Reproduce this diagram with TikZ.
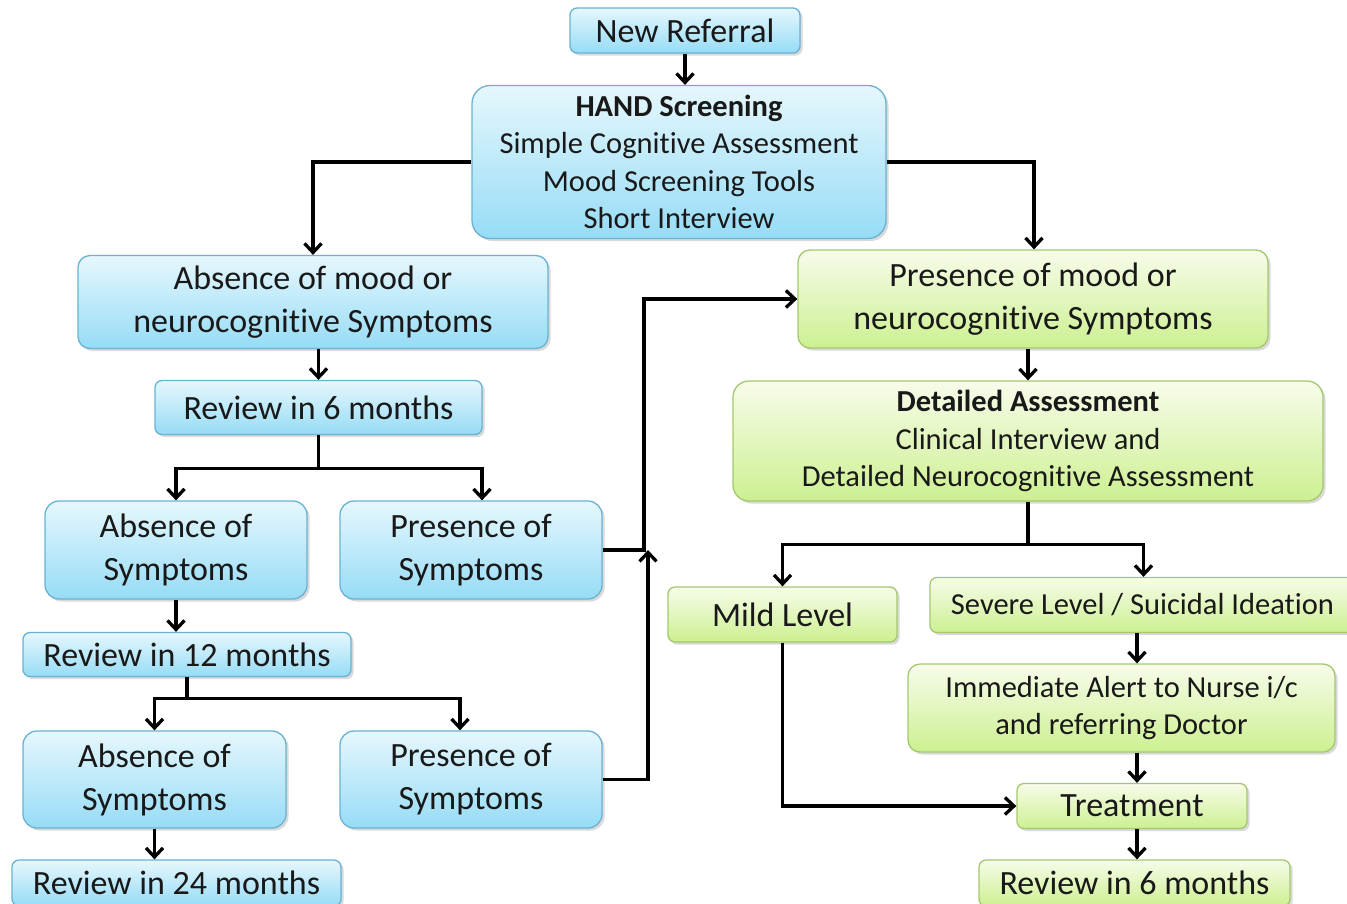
\documentclass[tikz,border=0pt]{standalone}
\usepackage{fontspec}
\setmainfont{Carlito}[Ligatures=NoCommon]
\usetikzlibrary{arrows.meta,shadows,calc}

\definecolor{bluetop}{RGB}{230,247,253}
\definecolor{bluebot}{RGB}{150,220,246}
\definecolor{bluebd}{RGB}{105,178,210}
\definecolor{greentop}{RGB}{247,252,234}
\definecolor{greenbot}{RGB}{205,240,145}
\definecolor{greenbd}{RGB}{165,200,110}

\newcommand\lgtext{\fontsize{34}{43}\selectfont}
\newcommand\smtext{\fontsize{30.5}{37.5}\selectfont}

\tikzset{
  box/.style={rounded corners=#1, line width=1.3pt, align=center, inner sep=0pt,
    text=black!90, drop shadow={shadow xshift=2.5pt, shadow yshift=-2.5pt, opacity=0.3}},
  bluebox/.style={box=#1, draw=bluebd, top color=bluetop, bottom color=bluebot},
  bluebox/.default=10pt,
  greenbox/.style={box=#1, draw=greenbd, top color=greentop, bottom color=greenbot},
  greenbox/.default=10pt,
  wire/.style={line width=3.3pt, black},
  arr/.style={wire, -{Straight Barb[length=9pt,width=17pt,line width=3.3pt]}},
}

\begin{document}
\begin{tikzpicture}[x=1pt,y=-1pt]
\useasboundingbox (0,0) rectangle (1347,903);

% left branch (blue)
\node[bluebox=7pt, minimum width=230pt, minimum height=45pt, font=\lgtext] (newref) at (685,30.5) {New Referral};
\node[bluebox=18pt, minimum width=414pt, minimum height=153pt, font=\smtext] (hand) at (679,162)
  {\textbf{HAND Screening}\\Simple Cognitive Assessment\\Mood Screening Tools\\Short Interview};
\node[bluebox=12pt, minimum width=470pt, minimum height=93pt, font=\lgtext] (absmood) at (313,302)
  {Absence of mood or\\neurocognitive Symptoms};
\node[bluebox=7pt, minimum width=327pt, minimum height=54pt, font=\lgtext] (revsix) at (318.5,407.5) {Review in 6 months};
\node[bluebox=14pt, minimum width=262pt, minimum height=98pt, font=\lgtext] (absone) at (176,550) {Absence of\\Symptoms};
\node[bluebox=14pt, minimum width=262pt, minimum height=98pt, font=\lgtext] (presone) at (471,550) {Presence of\\Symptoms};
\node[bluebox=7pt, minimum width=328pt, minimum height=44pt, font=\lgtext] (revtwelve) at (187,654.5) {Review in 12 months};
\node[bluebox=14pt, minimum width=263pt, minimum height=97pt, font=\lgtext] (abstwo) at (154.5,779.5) {Absence of\\Symptoms};
\node[bluebox=14pt, minimum width=262pt, minimum height=97pt, font=\lgtext] (prestwo) at (471,779.5) {Presence of\\Symptoms};
\node[bluebox=7pt, minimum width=329pt, minimum height=46pt, font=\lgtext] (revtwentyfour) at (176.5,883) {Review in 24 months};

% right branch (green)
\node[greenbox=12pt, minimum width=470pt, minimum height=98pt, font=\lgtext] (presmood) at (1033,299)
  {Presence of mood or\\neurocognitive Symptoms};
\node[greenbox=16pt, minimum width=590pt, minimum height=120pt, font=\smtext] (detail) at (1028,441)
  {\textbf{Detailed Assessment}\\Clinical Interview and\\Detailed Neurocognitive Assessment};
\node[greenbox=7pt, minimum width=229pt, minimum height=55pt, font=\lgtext] (mild) at (782.5,614.5) {Mild Level};
\node[greenbox=7pt, minimum width=425pt, minimum height=55pt, font=\smtext] (severe) at (1142.5,605) {Severe Level / Suicidal Ideation};
\node[greenbox=12pt, minimum width=427pt, minimum height=88pt, font=\smtext] (alert) at (1121.5,708)
  {Immediate Alert to Nurse i/c\\and referring Doctor};
\node[greenbox=7pt, minimum width=230pt, minimum height=45pt, font=\lgtext] (treat) at (1132,806) {Treatment};
\node[greenbox=7pt, minimum width=311pt, minimum height=46pt, font=\lgtext] (revsixr) at (1134.5,883) {Review in 6 months};

% junction columns
\coordinate (jup) at (644,0);
\coordinate (jlow) at (648,0);
\coordinate (rcol) at (1137,0);

% connectors, left branch
\draw[arr] (newref.south) -- (newref.south |- hand.north);
\draw[arr] (hand.west) -| (absmood.north);
\draw[arr] (hand.east) -| ([xshift=1pt]presmood.north);
\draw[arr] (revsix.north |- absmood.south) -- (revsix.north);
\draw[wire] (revsix.south) -- ++(0,33) coordinate (splitA);
\draw[arr] (splitA) -| (absone.north);
\draw[arr] (splitA) -| ([xshift=11pt]presone.north);
\draw[arr] (absone.south) -- (absone.south |- revtwelve.north);
\draw[wire] (revtwelve.south) -- ++(0,21) coordinate (splitB);
\draw[arr] (splitB) -| (abstwo.north);
\draw[arr] (splitB) -| ([xshift=-11pt]prestwo.north);
\draw[arr] (abstwo.south) -- (abstwo.south |- revtwentyfour.north);
\draw[arr] (presone.east) -- (presone.east -| jup) |- (presmood.west);
\draw[arr] (prestwo.east) -- (prestwo.east -| jlow) -- (jlow |- presone.east);

% connectors, right branch
\draw[arr] (detail.north |- presmood.south) -- (detail.north);
\draw[wire] (detail.south) -- ++(0,43) coordinate (splitC);
\draw[arr] (splitC) -| (mild.north);
\draw[arr] (splitC) -| ([xshift=1pt]severe.north);
\draw[arr] (severe.south -| rcol) -- (alert.north -| rcol);
\draw[arr] (alert.south -| rcol) -- (treat.north -| rcol);
\draw[arr] (treat.south -| rcol) -- (revsixr.north -| rcol);
\draw[arr] (mild.south) |- (treat.west);
\end{tikzpicture}
\end{document}
